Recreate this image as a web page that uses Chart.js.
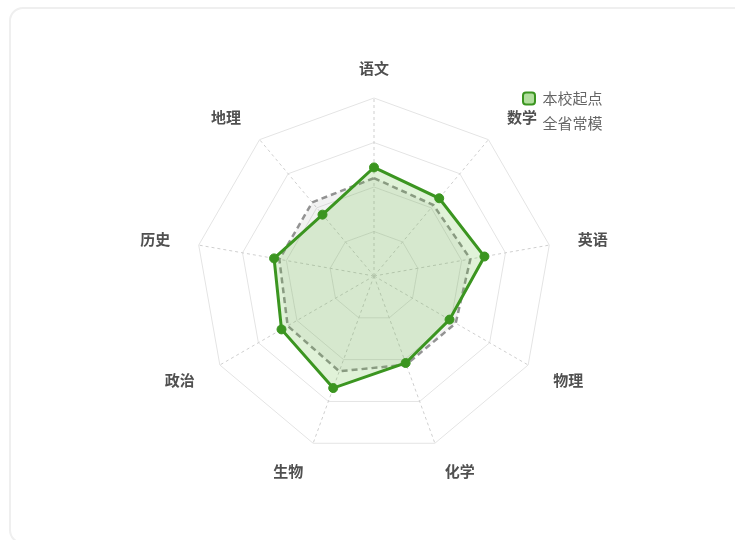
<!DOCTYPE html>
<html>
<head>
<meta charset="utf-8">
<script src="https://cdn.jsdelivr.net/npm/chart.js@4.4.0/dist/chart.umd.min.js"></script>
<style>
    html, body { margin: 0; padding: 0; background: #fff; }
    body { width: 735px; height: 540px; position: relative; overflow: hidden; }
    .card {
        position: absolute; left: 9px; top: 7px; width: 740px; height: 537px;
        box-sizing: border-box; border: 2px solid #efefef; border-radius: 14px;
    }
    .chart-box { position: absolute; left: 0; top: 0; width: 735px; height: 540px; }
</style>
</head>
<body>
<div class="card"></div>
<div class="chart-box"><canvas id="radar-chart"></canvas></div>
<script>
const subjects = ['语文', '数学', '英语', '物理', '化学', '生物', '政治', '历史', '地理'];
const seriesNames = ['本校起点', '全省常模'];
const schoolStart = [61, 57, 63, 49, 52, 67, 60, 57, 45];
const provinceNorm = [55, 52, 55, 53, 53, 57, 56, 54, 54];
const scaleTicks = [0, 25, 50, 75, 100];

const green = '#3b9520';

Chart.defaults.font.family = "'Noto Sans CJK SC', 'Noto Sans', sans-serif";

// legend sits over the chart, top right (it is clipped to its own box, so widen it)
const legendSpot = {
    id: 'legendSpot',
    afterLayout(chart) {
        const legend = chart.legend;
        const h = legend.bottom - legend.top;
        legend.left = 513;
        legend.right = chart.width;
        legend.top = 81;
        legend.bottom = 81 + h;
    }
};

const data = {
    labels: subjects,
    datasets: [{
        label: seriesNames[0],
        data: schoolStart,
        borderColor: green,
        borderWidth: 3,
        backgroundColor: 'rgba(100, 190, 60, 0.2)',
        fill: true,
        pointRadius: 4.5,
        pointBorderWidth: 1,
        pointBackgroundColor: green,
        pointBorderColor: green,
        tension: 0
    }, {
        label: seriesNames[1],
        data: provinceNorm,
        borderColor: 'rgba(135, 135, 135, 0.9)',
        borderWidth: 2.5,
        borderDash: [6, 4],
        backgroundColor: 'rgba(128, 128, 128, 0.1)',
        fill: true,
        pointRadius: 0,
        tension: 0
    }]
};

const config = {
    type: 'radar',
    data: data,
    plugins: [legendSpot],
    options: {
        responsive: true,
        maintainAspectRatio: false,
        animation: false,
        layout: {
            padding: { top: 62, bottom: 62, left: 14, right: 0 }
        },
        plugins: {
            legend: {
                position: 'right',
                align: 'start',
                maxWidth: 1,
                labels: {
                    boxWidth: 12,
                    boxHeight: 12,
                    padding: 10,
                    color: '#666',
                    font: { size: 15 },
                    useBorderRadius: true,
                    borderRadius: 3,
                    generateLabels(chart) {
                        const items = Chart.defaults.plugins.legend.labels.generateLabels(chart);
                        items[0].fillStyle = 'rgba(100, 190, 60, 0.5)';
                        items[0].strokeStyle = green;
                        items[0].lineWidth = 2;
                        items[0].borderRadius = 3;
                        items[1].fillStyle = 'rgba(0, 0, 0, 0)';
                        items[1].strokeStyle = 'rgba(0, 0, 0, 0)';
                        items[1].lineWidth = 0;
                        return items;
                    }
                }
            },
            tooltip: { enabled: false }
        },
        scales: {
            r: {
                min: scaleTicks[0],
                max: scaleTicks[scaleTicks.length - 1],
                ticks: { stepSize: scaleTicks[1] - scaleTicks[0], display: false },
                grid: { color: '#e4e4e4', lineWidth: 1 },
                angleLines: { color: '#cfcfcf', lineWidth: 1, borderDash: [3, 3] },
                pointLabels: {
                    padding: 29,
                    color: '#505050',
                    font: { size: 15, weight: 'bold', lineHeight: '1px' }
                }
            }
        }
    }
};

new Chart(document.getElementById('radar-chart'), config);
</script>
</body>
</html>
